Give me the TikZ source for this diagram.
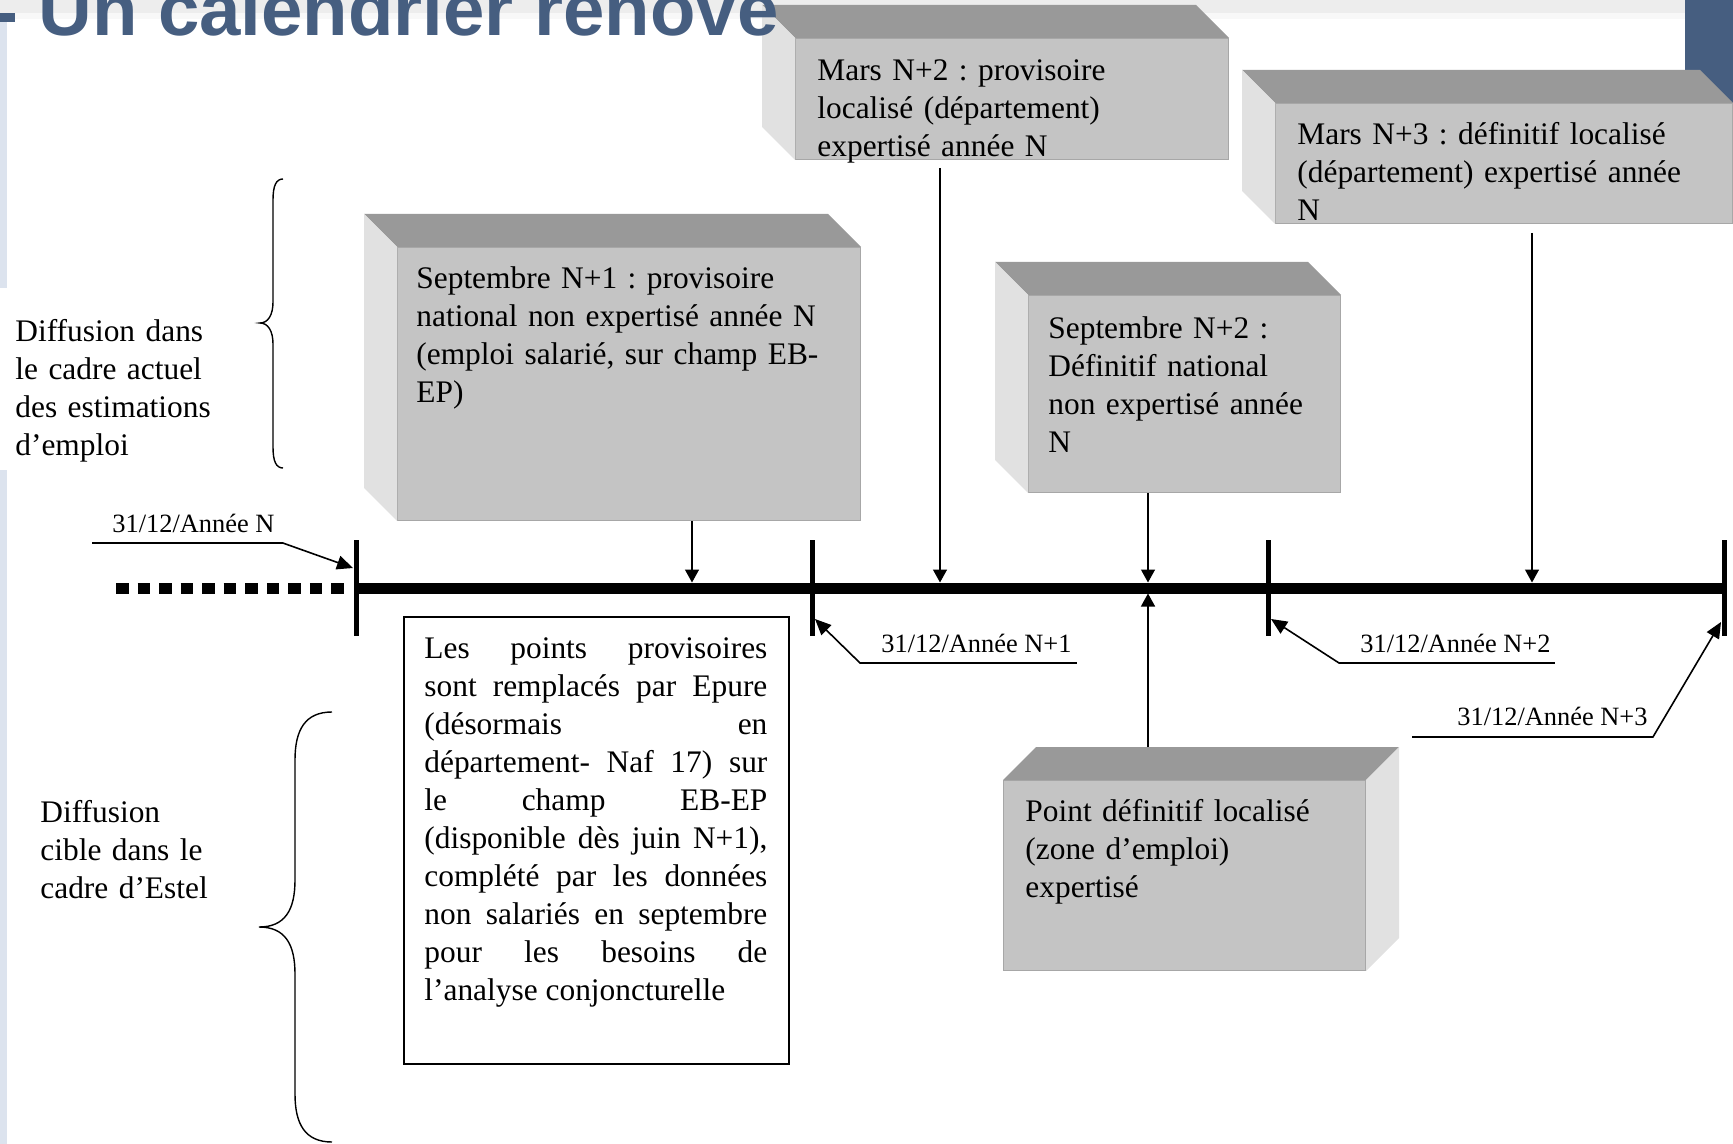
\documentclass[tikz,border=0pt]{standalone}
\usepackage{fontspec}
\setmainfont{Liberation Serif}
\newfontfamily\titlefont{Liberation Sans}
\usepackage{xcolor}
\usetikzlibrary{arrows.meta,calc}
\frenchspacing

\definecolor{slate}{HTML}{465E80}
\definecolor{frontgray}{HTML}{C4C4C4}
\definecolor{topgray}{HTML}{999999}
\definecolor{sidegray}{HTML}{E1E1E1}
\definecolor{bandgray}{HTML}{EDEDED}
\definecolor{stripblue}{HTML}{DCE3EE}

\begin{document}
\begin{tikzpicture}
      [ x=0.5pt, y=-0.5pt
      , front/.style={fill=frontgray, draw=frontgray!85!black, line width=0.5pt, inner sep=0pt, anchor=north west}
      , topface/.style={fill=topgray}
      , sideface/.style={fill=sidegray}
      , boxtext/.style={font=\fontsize{15.7}{19}\selectfont, anchor=base west, inner sep=0pt, align=left}
      , datelbl/.style={font=\fontsize{13.2}{16}\selectfont, anchor=base west, inner sep=0pt}
      , toLine/.style={draw, line width=0.7pt, -{Triangle[length=6.5pt,width=7pt]}}
      , leader/.style={draw, line width=0.8pt, -{Triangle[length=8pt,width=7pt]}}
      , tick/.style={draw, line width=2.5pt}
      , brace/.style={draw, line width=0.7pt}
      ]
    \useasboundingbox (0,0) rectangle (1733,1144);

    % slide background
    \fill[bandgray] (0,0) rectangle (1685,13);
    \fill[bandgray!40] (0,13) rectangle (1685,19);
    \fill[slate] (1685,0) rectangle (1733,150);
    \fill[stripblue] (0,13) rectangle (7,1144);
    \fill[white] (0,288) rectangle (230,470);

    % timeline
    \draw[line width=5.5pt, dash pattern=on 6.3pt off 4.47pt] (116,588) -- (344,588);
    \draw[line width=5.5pt] (356,588) -- (1724,588);
    \foreach \x in {356,812,1268,1724}
      \draw[tick] (\x,540) -- (\x,636);

    % grey blocks
    \node[front, minimum width=231.5pt, minimum height=136.5pt] (sepA) at (397,247) {};
    \node[front, minimum width=216.5pt, minimum height=60.5pt] (marsB) at (795,38) {};
    \node[front, minimum width=228.5pt, minimum height=60pt] (marsC) at (1275,103) {};
    \node[front, minimum width=156pt, minimum height=98.5pt] (sepB) at (1028,295) {};
    \node[front, minimum width=181pt, minimum height=95pt] (ptDef) at (1003,780) {};

    \foreach \b in {sepA,marsB,marsC,sepB} {
      \fill[topface] (\b.north west) -- ($(\b.north west)+(-33,-33)$)
        -- ($(\b.north east)+(-33,-33)$) -- (\b.north east) -- cycle;
      \fill[sideface] (\b.north west) -- ($(\b.north west)+(-33,-33)$)
        -- ($(\b.south west)+(-33,-33)$) -- (\b.south west) -- cycle;
    }
    \fill[topface] (ptDef.north west) -- ($(ptDef.north west)+(33,-33)$)
      -- ($(ptDef.north east)+(33,-33)$) -- (ptDef.north east) -- cycle;
    \fill[sideface] (ptDef.north east) -- ($(ptDef.north east)+(33,-33)$)
      -- ($(ptDef.south east)+(33,-33)$) -- (ptDef.south east) -- cycle;

    \node[boxtext, text width=210pt] (sepAtxt) at (416,289)
      {Septembre N+1 : provisoire\\national non expertisé année N\\(emploi salarié, sur champ EB-\\EP)};
    \node[boxtext, text width=205pt] (marsBtxt) at (817,81)
      {Mars N+2 : provisoire\\localisé (département)\\expertisé année N};
    \node[boxtext, text width=210pt] (marsCtxt) at (1297,145)
      {Mars N+3 : définitif localisé\\(département) expertisé année\\N};
    \node[boxtext, text width=145pt] (sepBtxt) at (1048,339)
      {Septembre N+2 :\\Définitif national\\non expertisé année\\N};
    \node[boxtext, text width=165pt] (ptDefTxt) at (1025,821)
      {Point définitif localisé\\(zone d’emploi)\\expertisé};

    % white note
    \node[draw, line width=0.75pt, fill=white, inner sep=0pt, anchor=north west,
          minimum width=192.5pt, minimum height=223.5pt] (note) at (403,616) {};
    \node[boxtext, text width=171.5pt, align=justify] (noteTxt) at (424,658)
      {\tolerance=10000\hbadness=10000 Les points provisoires\linebreak
       sont remplacés par Epure\linebreak (désormais en\linebreak
       département- Naf 17) sur\linebreak le champ EB-EP\linebreak
       (disponible dès juin N+1),\linebreak complété par les données\linebreak
       non salariés en septembre\linebreak pour les besoins de\linebreak
       l’analyse conjoncturelle};

    % arrows onto the timeline
    \coordinate (pA) at (692,582.5);
    \coordinate (pB) at (940,582.5);
    \coordinate (pC) at (1532,582.5);
    \coordinate (pD) at (1148,582.5);
    \coordinate (pE) at (1148,593.5);
    \draw[toLine] (sepA.south -| pA) -- (pA);
    \draw[toLine, shorten <=4pt] (marsB.south -| pB) -- (pB);
    \draw[toLine, shorten <=4.5pt] (marsC.south -| pC) -- (pC);
    \draw[toLine] (sepB.south -| pD) -- (pD);
    \draw[toLine] ($(ptDef.north -| pE)+(0,-33)$) -- (pE);

    % year ends
    \coordinate (tN) at (353,568);
    \coordinate (t1) at (815,619);
    \coordinate (t2) at (1271,619);
    \coordinate (t3) at (1721,622);
    \node[datelbl] (dN) at (112,532) {31/12/Année N};
    \node[datelbl] (d1) at (881,652) {31/12/Année N+1};
    \node[datelbl] (d2) at (1360,652) {31/12/Année N+2};
    \node[datelbl] (d3) at (1457,725) {31/12/Année N+3};
    \draw[leader] ([xshift=-10pt,yshift=-5.5pt]dN.base west)
      -- ([xshift=4pt,yshift=-5.5pt]dN.base east) -- (tN);
    \draw[leader] ([xshift=2.5pt,yshift=-5.5pt]d1.base east)
      -- ([xshift=-10.5pt,yshift=-5.5pt]d1.base west) -- (t1);
    \draw[leader] ([xshift=2pt,yshift=-5.5pt]d2.base east)
      -- ([xshift=-10.5pt,yshift=-5.5pt]d2.base west) -- (t2);
    \draw[leader] ([xshift=-22.5pt,yshift=-6pt]d3.base west)
      -- ([xshift=2.5pt,yshift=-6pt]d3.base east) -- (t3);

    % braces and side texts
    \draw[brace] (283,179) .. controls (276,179) and (273,186) .. (273,200)
      -- (273,302) .. controls (273,315) and (268,323) .. (260,323)
      .. controls (268,323) and (273,331) .. (273,344)
      -- (273,447) .. controls (273,461) and (276,468) .. (283,468);
    \draw[brace] (332,712) .. controls (305,712) and (295,730) .. (295,760)
      -- (295,880) .. controls (295,910) and (285,927) .. (259,927)
      .. controls (285,927) and (295,944) .. (295,974)
      -- (295,1094) .. controls (295,1124) and (305,1142) .. (332,1142);
    \node[boxtext, text width=120pt] (dansTxt) at (15,342)
      {Diffusion dans\\le cadre actuel\\des estimations\\d’emploi};
    \node[boxtext, text width=120pt] (cibleTxt) at (40,822)
      {Diffusion\\cible dans le\\cadre d’Estel};

    % slide title, cut by the top edge
    \fill[slate] (0,13) rectangle (15,22);
    \node[font=\titlefont\bfseries\fontsize{37.2}{40}\selectfont, text=slate,
          anchor=base west, inner sep=0pt] (title) at (38,36) {Un calendrier rénové};
\end{tikzpicture}
\end{document}
